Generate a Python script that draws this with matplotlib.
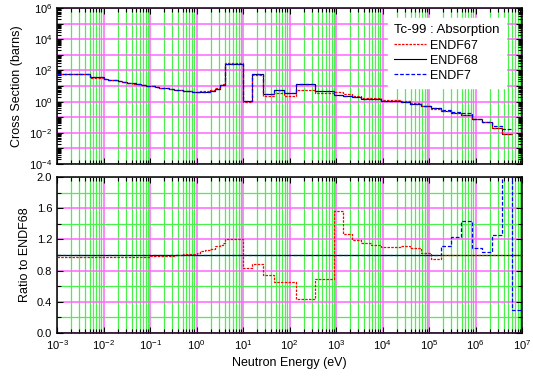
import numpy as np
import matplotlib
matplotlib.use('Agg')
import matplotlib.pyplot as plt
from matplotlib.ticker import LogLocator, NullFormatter, FuncFormatter, MultipleLocator

plt.rcParams['font.family'] = ['Liberation Sans', 'DejaVu Sans']
plt.rcParams['mathtext.fontset'] = 'custom'
plt.rcParams['mathtext.rm'] = 'Liberation Sans'

# group boundaries (eV)
edges_ev = [1.0e-3, 5.0e-3, 1.0e-2, 1.26e-2, 1.58e-2, 2.0e-2, 2.5e-2, 3.2e-2, 4.0e-2, 5.0e-2,
            6.3e-2, 8.0e-2, 0.1, 0.126, 0.158, 0.2, 0.25, 0.32, 0.4, 0.5,
            0.63, 0.8, 1.0, 1.2, 1.5, 1.95, 2.5, 3.2, 3.7, 4.0,
            10.0, 15.8, 27.5, 46.8, 77.6, 141.0, 355.0, 912.0, 1380.0, 2190.0,
            3470.0, 5620.0, 9120.0, 2.45e4, 3.89e4, 6.61e4, 1.10e5, 1.82e5, 2.95e5, 4.90e5,
            8.32e5, 1.35e6, 2.24e6, 3.63e6, 6.03e6, 1.0e7]

# ENDF68 absorption (barns) per group; last group not drawn in the upper panel
endf68_xs = [59.0, 36.0, 29.5, 26.3, 23.4, 20.9, 18.6, 16.6, 14.8, 13.2,
             11.7, 10.7, 9.6, 8.7, 7.8, 7.1, 6.3, 5.7, 5.2, 4.8,
             4.5, 4.3, 4.3, 4.3, 4.4, 5.0, 6.5, 11.0, 11.0, 257.0,
             1.1, 59.0, 3.0, 5.2, 3.4, 13.5, 4.9, 2.6, 2.3, 1.86,
             1.55, 1.41, 1.15, 0.93, 0.71, 0.52, 0.37, 0.25, 0.178, 0.138,
             0.074, 0.047, 0.022, 0.0083, 0.005]

# ratios to ENDF68 per group
endf67_ratio = [0.97, 0.97, 0.98, 0.98, 0.98, 0.98, 0.98, 0.98, 0.98, 0.98,
                0.98, 0.98, 0.99, 0.99, 0.99, 0.99, 0.99, 1.00, 1.00, 1.01,
                1.01, 1.01, 1.03, 1.05, 1.06, 1.08, 1.11, 1.13, 1.15, 1.20,
                0.83, 0.88, 0.75, 0.65, 0.65, 0.44, 0.69, 1.56, 1.27, 1.19,
                1.16, 1.13, 1.10, 1.12, 1.09, 1.02, 0.95, 1.00, 1.00, 1.00,
                1.00, 1.00, 1.00, 1.00, 1.00]
endf7_ratio = [1.0] * 47 + [1.12, 1.23, 1.44, 1.09, 1.04, 1.26, 2.2, 0.29]

MAGENTA = '#ff66ff'
GREEN = '#4cf04c'


def style_axis(ax):
  ax.set_xscale('log')
  ax.set_xlim(1e-3, 1e7)
  ax.xaxis.set_major_locator(LogLocator(base=10, numticks=20))
  ax.xaxis.set_minor_locator(LogLocator(base=10, subs=np.arange(2, 10), numticks=200))
  ax.xaxis.set_minor_formatter(NullFormatter())
  ax.set_axisbelow(True)
  ax.grid(True, which='major', axis='x', color=MAGENTA, lw=1.1)
  ax.grid(True, which='minor', axis='x', color=GREEN, lw=0.9)
  ax.tick_params(which='both', direction='in', top=True, right=True, width=0.8,
                 labelsize=8, color='black')
  ax.tick_params(which='major', length=4.5)
  ax.tick_params(which='minor', length=2.8)
  for sp in ax.spines.values():
    sp.set_linewidth(1.1)


def decade_label(v, pos):
  e = int(round(np.log10(v)))
  if e % 2:
    return ''
  return r'$\mathdefault{10^{%d}}$' % e


def main():
  edges = np.array(edges_ev)
  xs68 = np.array(endf68_xs)
  r67 = np.array(endf67_ratio)
  r7 = np.array(endf7_ratio)

  fig = plt.figure(figsize=(5.33, 3.78), dpi=100)
  ax1 = fig.add_axes([0.107, 0.566, 0.8724, 0.4127])
  ax2 = fig.add_axes([0.107, 0.119, 0.8724, 0.4127])

  # upper panel: cross sections
  ax1.stairs(xs68[:-1], edges[:-1], baseline=None, color='black', lw=0.8, zorder=3, label='ENDF68')
  ax1.stairs((xs68 * r67)[:-1], edges[:-1], baseline=None, color='red', lw=0.9,
             linestyle=(0, (2, 1)), zorder=4, label='ENDF67')
  ax1.stairs((xs68 * r7)[:-1], edges[:-1], baseline=None, color='blue', lw=0.9,
             linestyle=(0, (3, 1.5)), zorder=5, label='ENDF7')
  style_axis(ax1)
  ax1.set_yscale('log')
  ax1.set_ylim(1e-4, 1e6)
  ax1.yaxis.set_major_locator(LogLocator(base=10, numticks=20))
  ax1.yaxis.set_major_formatter(FuncFormatter(decade_label))
  ax1.yaxis.set_minor_locator(LogLocator(base=10, subs=np.arange(2, 10), numticks=200))
  ax1.yaxis.set_minor_formatter(NullFormatter())
  ax1.grid(True, which='major', axis='y', color=MAGENTA, lw=1.1)
  ax1.tick_params(labelbottom=False)
  ax1.set_ylabel('Cross Section (barns)', fontsize=9)

  h, l = ax1.get_legend_handles_labels()
  order = [l.index('ENDF67'), l.index('ENDF68'), l.index('ENDF7')]
  leg = ax1.legend([h[i] for i in order], [l[i] for i in order], title='Tc-99 : Absorption',
                   loc='upper right', bbox_to_anchor=(0.965, 0.935), fontsize=9, title_fontsize=9.5,
                   alignment='left', frameon=True, fancybox=False, edgecolor='white',
                   framealpha=1, handlelength=2.6, handletextpad=0.3, labelspacing=0.25,
                   borderaxespad=0.0, borderpad=0.5)
  leg.set_zorder(10)

  # lower panel: ratios
  ax2.stairs(np.ones_like(r67), edges, baseline=None, color='black', lw=0.8, zorder=3)
  ax2.stairs(r67, edges, baseline=None, color='red', lw=0.9, linestyle=(0, (2, 1)), zorder=4)
  ax2.stairs(r7, edges, baseline=None, color='blue', lw=0.9, linestyle=(0, (3, 1.5)), zorder=5)
  style_axis(ax2)
  ax2.set_ylim(0.0, 2.0)
  ax2.yaxis.set_major_locator(MultipleLocator(0.4))
  ax2.yaxis.set_minor_locator(MultipleLocator(0.2))
  ax2.yaxis.set_major_formatter(FuncFormatter(lambda v, p: '%.1f' % v))
  ax2.grid(True, which='major', axis='y', color=MAGENTA, lw=1.1)
  ax2.grid(True, which='minor', axis='y', color=GREEN, lw=0.9)
  ax2.set_ylabel('Ratio to ENDF68', fontsize=9)
  ax2.set_xlabel('Neutron Energy (eV)', fontsize=9)

  fig.align_ylabels([ax1, ax2])
  fig.savefig('out.png', dpi=100)


if __name__ == '__main__':
  main()
